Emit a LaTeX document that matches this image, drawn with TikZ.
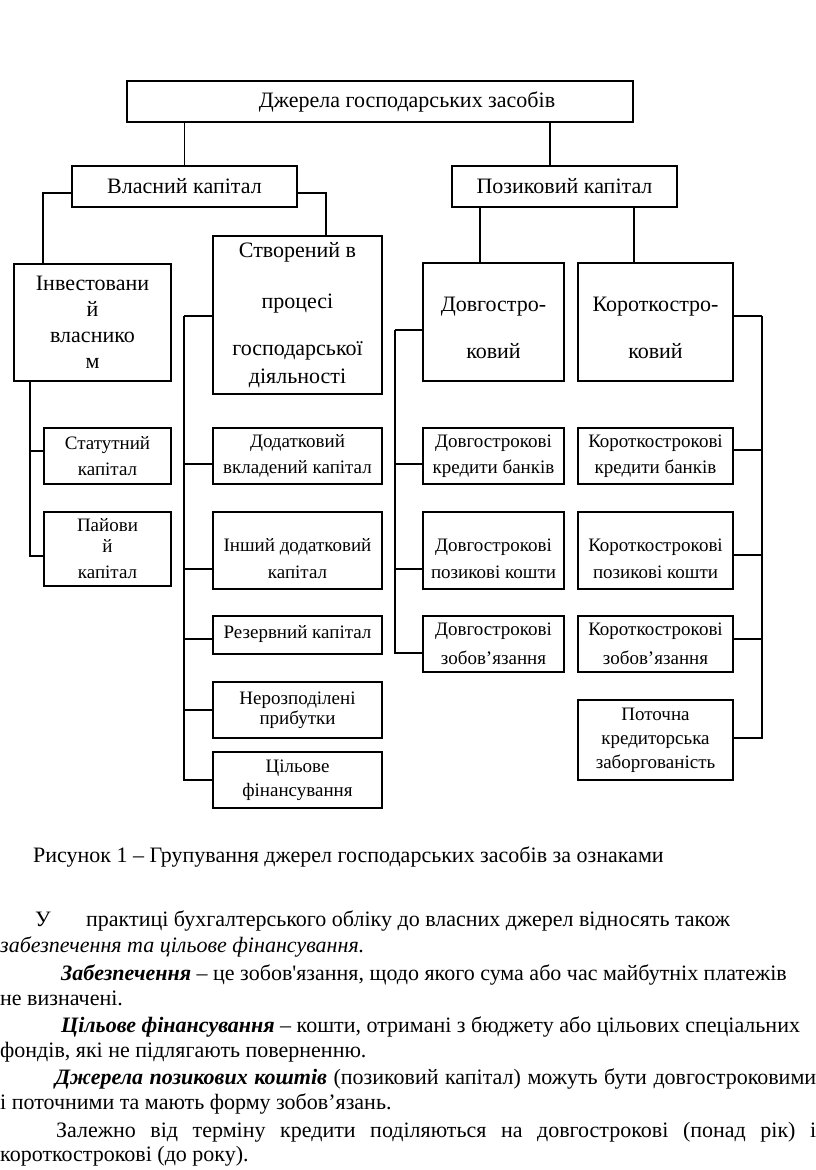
\documentclass[tikz,border=0pt]{standalone}
\usepackage{fontspec}
\setmainfont{Liberation Serif}
\usetikzlibrary{calc}

\tikzset{
  box/.style={draw, line width=1.6bp, inner sep=0pt, align=center},
  big/.style={font=\fontsize{22bp}{25bp}\selectfont},
  small/.style={font=\fontsize{19bp}{26bp}\selectfont},
  ownw/.style={minimum width=127bp},
  crw/.style={minimum width=169bp},
  lngw/.style={minimum width=141bp},
  shw/.style={minimum width=155bp},
  link/.style={line width=1.6bp},
  txt/.style={anchor=base west, inner sep=0pt, font=\fontsize{22bp}{25bp}\selectfont},
}

\begin{document}
\begin{tikzpicture}[x=1bp,y=-1bp]
  \useasboundingbox (0,0) rectangle (816,1170);

  % upper levels
  \node[box,big,minimum width=506bp,minimum height=41bp] (top) at (380,101.5) {\hspace*{54bp}Джерела господарських засобів};
  \node[box,big,minimum width=225bp,minimum height=41bp] (vk) at (184.5,186.5) {Власний капітал};
  \node[box,big,minimum width=225bp,minimum height=41bp] (pk) at (564.5,186.5) {Позиковий капітал};

  \node[box,big,minimum width=157bp,minimum height=117bp] (inv) at (92.5,322.5) {Інвестовани\\[1bp]й\\[1bp]власнико\\[1bp]м};
  \node[box,big,crw,minimum height=158bp] (stv) at (297.5,315) {Створений в\\[26bp]процесі\\[22bp]господарської\\[3bp]діяльності};
  \node[box,big,lngw,minimum height=118bp] (dov) at (493.5,322) {\rule{0pt}{26bp}Довгостро-\\[22bp]ковий};
  \node[box,big,shw,minimum height=118bp] (kor) at (655.5,322) {\rule{0pt}{26bp}Короткостро-\\[22bp]ковий};

  % own capital
  \node[box,small,ownw,minimum height=56bp] (stat) at (107.5,456) {Статутний\\капітал};
  \node[box,small,ownw,minimum height=74bp] (paj) at (107.5,549) {Пайови\\[-5bp]й\\капітал};
  \node[box,small,crw,minimum height=56bp] (dod) at (297.5,456) {Додатковий\\вкладений капітал};
  \node[box,small,crw,minimum height=77bp] (insh) at (297.5,550.5) {\rule{0pt}{30bp}Інший додатковий\\[1bp]капітал};
  \node[box,small,crw,minimum height=38bp] (rez) at (297.5,635) {\raisebox{7bp}{Резервний капітал}};
  \node[box,small,crw,minimum height=56bp] (nerozp) at (297.5,710) {Нерозподілені\\[-6bp]прибутки};
  \node[box,small,crw,minimum height=56bp] (cil) at (297.5,780) {Цільове\\[-2bp]фінансування};

  % borrowed capital
  \node[box,small,lngw,minimum height=56bp] (dkr) at (493.5,456) {Довгострокові\\кредити банків};
  \node[box,small,lngw,minimum height=77bp] (dpoz) at (493.5,550.5) {\rule{0pt}{30bp}Довгострокові\\[1bp]позикові кошти};
  \node[box,small,lngw,minimum height=56bp] (dzob) at (493.5,644) {Довгострокові\\[3bp]зобов’язання};
  \node[box,small,shw,minimum height=56bp] (kkr) at (655.5,456) {Короткострокові\\кредити банків};
  \node[box,small,shw,minimum height=77bp] (kpoz) at (655.5,550.5) {\rule{0pt}{30bp}Короткострокові\\[1bp]позикові кошти};
  \node[box,small,shw,minimum height=56bp] (kzob) at (655.5,644) {Короткострокові\\[3bp]зобов’язання};
  \node[box,small,shw,minimum height=80bp] (potoch) at (655.5,740) {Поточна\\[-2bp]кредиторська\\[-2bp]заборгованість};

  % connectors
  \coordinate (pkt) at ([xshift=-14.5bp]pk.north);
  \coordinate (dvt) at ([xshift=-13.5bp]dov.north);
  \coordinate (krt) at ([xshift=-21.5bp]kor.north);
  \draw[link] (vk.north) -- (vk.north |- top.south);
  \draw[link] (pkt) -- (pkt |- top.south);
  \draw[link] ([yshift=-6.5bp]vk.west) -| ([xshift=30bp]inv.north west);
  \draw[link] ([yshift=-6.5bp]vk.east) -| ([xshift=28.5bp]stv.north);
  \draw[link] (dvt) -- (dvt |- pk.south);
  \draw[link] (krt) -- (krt |- pk.south);

  \coordinate (invs) at ([xshift=17bp]inv.south west);
  \draw[link] ([yshift=5bp]stat.west) -| (invs);
  \draw[link] ([yshift=-7bp]paj.west) -| (invs);

  \coordinate (stvs) at ([xshift=-28bp,yshift=-1bp]stv.west);
  \draw[link] ([yshift=-1bp]stv.west) -- (stvs);
  \draw[link] ([yshift=-8bp]dod.west) -| (stvs);
  \draw[link] ([yshift=-18.5bp]insh.west) -| (stvs);
  \draw[link] ([yshift=-4bp]rez.west) -| (stvs);
  \draw[link] (nerozp.west) -| (stvs);
  \draw[link] (cil.west) -| (stvs);

  \coordinate (dovs) at ([xshift=-27bp,yshift=-8bp]dov.west);
  \draw[link] ([yshift=-8bp]dov.west) -- (dovs);
  \draw[link] ([yshift=-8bp]dkr.west) -| (dovs);
  \draw[link] ([yshift=-18.5bp]dpoz.west) -| (dovs);
  \draw[link] ([yshift=-9bp]dzob.west) -| (dovs);

  \coordinate (kors) at ([xshift=28bp,yshift=6bp]kor.east);
  \draw[link] ([yshift=6bp]kor.east) -- (kors);
  \draw[link] ([yshift=6bp]kkr.east) -| (kors);
  \draw[link] ([yshift=-4.5bp]kpoz.east) -| (kors);
  \draw[link] ([yshift=5bp]kzob.east) -| (kors);
  \draw[link] ([yshift=2bp]potoch.east) -| (kors);

  % caption and text
  \node[txt] (cap) at (33,862) {Рисунок 1 – Групування джерел господарських засобів за ознаками};
  \node[txt] (l1a) at (35,926) {У};
  \node[txt] (l1) at (86,926) {практиці бухгалтерського обліку до власних джерел відносять також};
  \node[txt] (l2) at (0,952) {\textit{забезпечення та цільове фінансування.}};
  \node[txt] (l3) at (61,980) {\textbf{\textit{Забезпечення}} – це зобов\textquotesingle язання, щодо якого сума або час майбутніх платежів};
  \node[txt] (l4) at (0,1005) {не визначені.};
  \node[txt] (l5) at (61,1032) {\textbf{\textit{Цільове фінансування}} – кошти, отримані з бюджету або цільових спеціальних};
  \node[txt] (l6) at (0,1057) {фондів, які не підлягають поверненню.};
  \node[txt] (l7) at (55,1084) {\makebox[761bp][s]{\textbf{\textit{Джерела позикових коштів}} (позиковий капітал) можуть бути довгостроковими}};
  \node[txt] (l8) at (0,1109) {і поточними та мають форму зобов’язань.};
  \node[txt] (l9) at (56,1137) {\makebox[760bp][s]{Залежно від терміну кредити поділяються на довгострокові (понад рік) і}};
  \node[txt] (l10) at (0,1161) {короткострокові (до року).};
\end{tikzpicture}
\end{document}
